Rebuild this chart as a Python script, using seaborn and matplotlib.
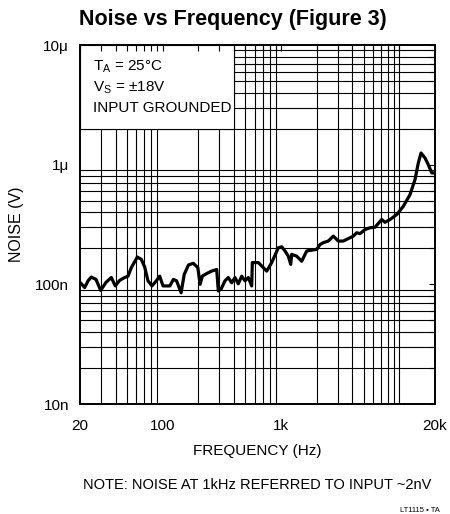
import numpy as np
import pandas as pd
import matplotlib
matplotlib.use("Agg")
import matplotlib.pyplot as plt
from matplotlib.ticker import FixedLocator, LogLocator, NullFormatter
from matplotlib.patches import Rectangle
import seaborn as sns

# Curve (frequency in Hz, noise in nV)
freq_hz = [20, 21.9, 23.4, 24.9, 27.3, 29.9, 33.2, 36.8, 39.7, 43.3,
           47.7, 50.9, 54.3, 61, 65.9, 70.5, 75.1, 81.2, 88.3, 94.3,
           100.6, 107, 115, 123, 131, 143, 152, 165, 181, 198,
           207, 216, 235, 259, 286, 295, 311, 336, 358, 383,
           408, 435, 465, 496, 529, 565, 572, 643, 708, 757,
           834, 948, 1013, 1080, 1152, 1207, 1230, 1356, 1495, 1648,
           2002, 2134, 2276, 2508, 2764, 3048, 3360, 3826, 4080, 4360,
           4648, 5124, 5648, 6224, 7090, 7562, 8336, 9496, 10796, 12300,
           13554, 14454, 15238, 16470, 17556, 18760, 20000]
noise_nv = [104, 94, 107, 115, 110, 89, 104, 114, 97, 108,
            114, 117, 138, 169, 162, 139, 107, 97, 107, 117,
            97, 97, 97, 110, 107, 85, 121, 145, 150, 138,
            100, 117, 123, 129, 133, 88, 91, 107, 114, 103,
            114, 101, 117, 107, 114, 97, 152, 152, 138, 129,
            152, 202, 206, 190, 172, 147, 178, 172, 156, 190,
            196, 215, 223, 230, 253, 230, 230, 245, 253, 270,
            265, 287, 297, 300, 348, 330, 348, 383, 449, 562,
            750, 1033, 1252, 1137, 1000, 853, 853]

xtick_vals = [20, 100, 1000, 20000]
xtick_labels = ["20", "100", "1k", "20k"]
ytick_vals = [1e-8, 1e-7, 1e-6, 1e-5]
ytick_labels = ["10n", "100n", "1\u03bc", "10\u03bc"]

conditions = [r"T$_\mathregular{A}$ = 25°C",
              r"V$_\mathregular{S}$ = ±18V",
              "INPUT GROUNDED"]
note_text = "NOTE: NOISE AT 1kHz REFERRED TO INPUT ~2nV"
part_text = "LT1115 \u2022 TA"

# box that hides the grid behind the conditions text (data coords)
box_x = (20, 400)
box_y = (2e-6, 1e-5)

df = pd.DataFrame({"freq": freq_hz, "noise": np.array(noise_nv) * 1e-9})

sns.set_theme(style="white")
plt.rcParams["font.family"] = ["Liberation Sans", "DejaVu Sans"]
plt.rcParams["mathtext.default"] = "regular"
for key in ["text.color", "axes.labelcolor", "xtick.color", "ytick.color"]:
    plt.rcParams[key] = "black"

fig = plt.figure(figsize=(4.5, 5.14), dpi=100)
ax = fig.add_axes([80 / 450, 110 / 514, 355 / 450, 359 / 514])

sns.lineplot(data=df, x="freq", y="noise", estimator=None, sort=False,
             color="black", linewidth=2.3, ax=ax, zorder=3)

ax.set_xscale("log")
ax.set_yscale("log")
ax.set_xlim(20, 20000)
ax.set_ylim(1e-8, 1e-5)

ax.xaxis.set_major_locator(FixedLocator(xtick_vals))
ax.set_xticklabels(xtick_labels)
ax.xaxis.set_minor_locator(LogLocator(base=10, subs=np.arange(1, 10)))
ax.xaxis.set_minor_formatter(NullFormatter())
ax.yaxis.set_major_locator(FixedLocator(ytick_vals))
ax.set_yticklabels(ytick_labels)
ax.yaxis.set_minor_locator(LogLocator(base=10, subs=np.arange(1, 10)))
ax.yaxis.set_minor_formatter(NullFormatter())

# grid drawn by hand so the white box can sit over it and under the ticks
x0, x1 = ax.get_xlim()
y0, y1 = ax.get_ylim()
for v in ax.xaxis.get_minorticklocs():
    if x0 < v < x1:
        ax.axvline(v, color="black", lw=0.8, zorder=0.5)
for v in ax.yaxis.get_minorticklocs():
    if y0 < v < y1:
        ax.axhline(v, color="black", lw=0.8, zorder=0.5)

ax.add_patch(Rectangle((box_x[0], box_y[0]), box_x[1] - box_x[0], box_y[1] - box_y[0],
                       facecolor="white", edgecolor="black", lw=0.8, zorder=1))
ax.set_axisbelow(False)

for i, line in enumerate(conditions):
    ax.text(0.037, 0.93 - i * 0.0585, line, transform=ax.transAxes,
            fontsize=11, va="baseline", ha="left", zorder=4)

ax.tick_params(which="both", direction="in", top=True, right=True,
               length=4, width=0.8, color="black")
ax.tick_params(axis="x", which="major", labelsize=11, pad=11)
ax.tick_params(axis="y", which="major", labelsize=11, pad=8)

for s in ax.spines.values():
    s.set_color("black")
    s.set_linewidth(1.4)

ax.set_xlabel("FREQUENCY (Hz)", fontsize=11, labelpad=8)
ax.set_ylabel("NOISE (V)", fontsize=11.5, labelpad=8)

fig.text(233 / 450, 1 - 25 / 514, "Noise vs Frequency (Figure 3)",
         fontsize=15.5, fontweight="bold", ha="center", va="baseline")
fig.text(83 / 450, 1 - 485 / 514, note_text, fontsize=10.5, ha="left", va="center")
fig.text(400 / 450, 1 - 510 / 514, part_text, fontsize=5.5, ha="left", va="center")

fig.savefig("out.png", dpi=100)
